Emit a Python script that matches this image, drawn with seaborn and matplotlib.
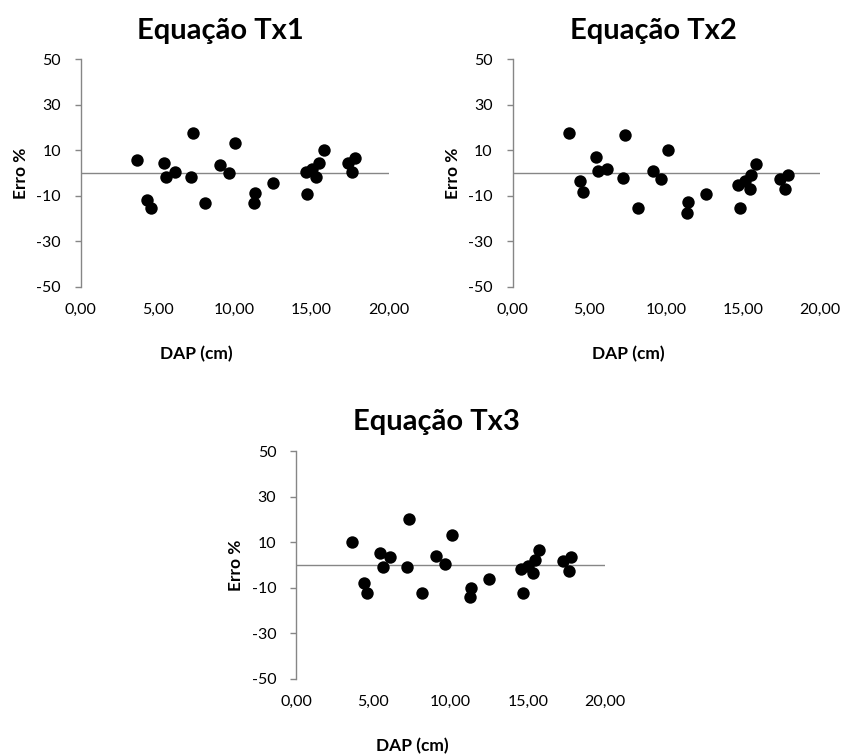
import numpy as np
import pandas as pd
import matplotlib
matplotlib.use("Agg")
import matplotlib.pyplot as plt
import seaborn as sns

# ---- data ----
titles = ["Equação Tx1", "Equação Tx2", "Equação Tx3"]
x_label = "DAP (cm)"
y_label = "Erro %"
y_ticks = [-50, -30, -10, 10, 30, 50]
x_ticks = [0, 5, 10, 15, 20]
x_tick_labels = ["0,00", "5,00", "10,00", "15,00", "20,00"]

dap_tx1 = [3.64, 4.33, 4.59, 5.41, 5.54, 6.11, 7.32, 7.17, 8.06, 9.07, 9.64, 10.05,
           11.33, 11.24, 12.51, 14.68, 14.62, 15.01, 15.30, 15.46, 15.79, 17.35, 17.80, 17.65]
erro_tx1 = [5.8, -11.8, -15.4, 4.2, -1.6, 0.3, 17.5, -1.8, -13.3, 3.5, 0.0, 13.3,
            -8.8, -13.2, -4.6, -9.2, 0.3, 1.8, -1.6, 4.5, 10.1, 4.6, 6.8, 0.3]

dap_tx2 = [3.67, 4.38, 4.60, 5.43, 5.58, 6.12, 7.32, 7.21, 8.14, 9.12, 9.68, 10.14,
           11.40, 11.38, 12.60, 14.64, 14.81, 15.09, 15.42, 15.53, 15.86, 17.37, 17.74, 17.89]
erro_tx2 = [17.5, -3.4, -8.5, 6.9, 0.7, 1.6, 16.8, -2.4, -15.4, 1.0, -2.7, 10.1,
            -12.9, -17.8, -9.3, -5.3, -15.4, -3.7, -7.1, -0.9, 4.0, -2.7, -7.1, -0.8]

dap_tx3 = [3.64, 4.38, 4.61, 5.44, 5.61, 6.08, 7.33, 7.20, 8.14, 9.06, 9.66, 10.08,
           11.31, 11.26, 12.51, 14.54, 14.71, 15.00, 15.32, 15.47, 15.75, 17.26, 17.67, 17.80]
erro_tx3 = [10.0, -7.7, -12.1, 5.1, -0.7, 3.7, 20.0, -0.7, -12.1, 4.0, 0.4, 13.3,
            -9.9, -13.9, -6.2, -1.8, -12.1, -0.3, -3.7, 2.2, 6.6, 1.9, -2.5, 3.4]

panels = [
    (dap_tx1, erro_tx1),
    (dap_tx2, erro_tx2),
    (dap_tx3, erro_tx3),
]

# ---- layout (pixels) ----
W, H = 843, 754
sns.set_style("white")
plt.rcParams['font.family'] = ['Lato', 'DejaVu Sans']
plt.rcParams['axes.unicode_minus'] = False
plt.rcParams['text.color'] = 'black'

fig = plt.figure(figsize=(W / 100, H / 100), dpi=100)

# axes boxes: left, right, top, bottom in pixels
boxes = [
    (80.7, 388.5, 59.3, 286.7),
    (512.5, 820.0, 59.3, 286.7),
    (296.0, 605.0, 451.0, 679.0),
]
title_pos = [(220, 39), (653, 39.3), (436.5, 430)]
xlabel_pos = [(196, 359), (628, 359), (412, 751)]
ylabel_pos = [(20.7, 173), (452.5, 173), (236, 565)]

gray = "#868686"

for i, ((x, y), (l, r, t, b)) in enumerate(zip(panels, boxes)):
    ax = fig.add_axes([l / W, 1 - b / H, (r - l) / W, (b - t) / H])
    df = pd.DataFrame({"DAP": x, "Erro": y})
    ax.axhline(0, color=gray, lw=1.0, zorder=1)
    sns.scatterplot(data=df, x="DAP", y="Erro", ax=ax, color="black", s=80,
                    edgecolor="black", linewidth=0, zorder=3, clip_on=False)
    ax.set_xlim(0, 20)
    ax.set_ylim(-50, 50)
    ax.set_xticks(x_ticks)
    ax.set_xticklabels(x_tick_labels)
    ax.set_yticks(y_ticks)
    ax.set_xlabel("")
    ax.set_ylabel("")
    for s in ["top", "right", "bottom"]:
        ax.spines[s].set_visible(False)
    ax.spines["left"].set_color(gray)
    ax.spines["left"].set_linewidth(1.0)
    ax.tick_params(axis="y", direction="out", length=4.2, width=1.0, color=gray,
                   pad=10, labelsize=11.5, labelcolor="black", left=True)
    ax.tick_params(axis="x", length=0, pad=11.5, labelsize=11.5, labelcolor="black")
    ax.set_facecolor("none")
    ax.grid(False)

    tx, ty = title_pos[i]
    fig.text(tx / W, 1 - ty / H, titles[i], ha="center", va="baseline",
             fontsize=21, fontweight="bold", color="black")
    xx, xy = xlabel_pos[i]
    fig.text(xx / W, 1 - xy / H, x_label, ha="center", va="baseline",
             fontsize=12.5, fontweight="bold", color="black")
    yx, yy = ylabel_pos[i]
    fig.text(yx / W, 1 - yy / H, y_label, ha="center", va="center",
             rotation=90, fontsize=12.5, fontweight="bold", color="black")

fig.savefig("out.png", dpi=100, facecolor="white")
